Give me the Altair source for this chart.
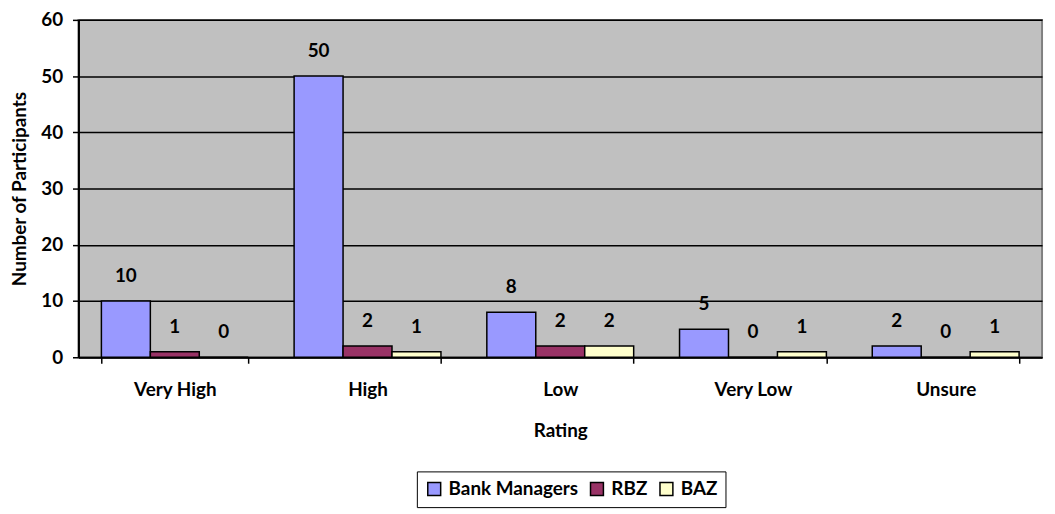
import altair as alt
import pandas as pd

categories = ["Very High", "High", "Low", "Very Low", "Unsure"]
series = ["Bank Managers", "RBZ", "BAZ"]
bank_managers = [10, 50, 8, 5, 2]
rbz = [1, 2, 2, 0, 0]
baz = [0, 1, 2, 1, 1]
colors = ["#9999FF", "#993366", "#FFFFCC"]

rows = []
for s, vals in zip(series, [bank_managers, rbz, baz]):
    for c, v in zip(categories, vals):
        rows.append({"Rating": c, "Series": s, "Value": v})
df = pd.DataFrame(rows)

FONT = "Lato"
FS = 19

x_enc = alt.X(
    "Rating:N",
    sort=categories,
    scale=alt.Scale(paddingInner=0.238, paddingOuter=0.119),
    axis=alt.Axis(
        title="Rating",
        labelAngle=0,
        tickBand="extent",
        tickSize=6,
        tickColor="black",
        tickWidth=1.5,
        domainColor="black",
        domainWidth=2,
        labelPadding=18,
        titlePadding=22,
        grid=False,
    ),
)
xoff = alt.XOffset("Series:N", sort=series, scale=alt.Scale(paddingInner=0, paddingOuter=0))

bars = alt.Chart(df).mark_bar(stroke="black", strokeWidth=1.5).encode(
    x=x_enc,
    xOffset=xoff,
    y=alt.Y(
        "Value:Q",
        scale=alt.Scale(domain=[0, 60], nice=False),
        axis=alt.Axis(
            title="Number of Participants",
            values=[0, 10, 20, 30, 40, 50, 60],
            grid=True,
            gridColor="black",
            gridWidth=1.5,
            tickSize=6,
            tickColor="black",
            tickWidth=1.5,
            domainColor="black",
            domainWidth=2,
            labelPadding=10,
            titlePadding=11,
        ),
    ),
    color=alt.Color(
        "Series:N",
        sort=series,
        scale=alt.Scale(domain=series, range=colors),
        legend=alt.Legend(
            title=None,
            orient="none",
            direction="horizontal",
            legendX=341,
            legendY=455,
            symbolType="square",
            symbolSize=169,
            symbolStrokeColor="black",
            symbolStrokeWidth=1.5,
            symbolOpacity=1,
            labelFont=FONT,
            labelFontSize=FS,
            labelFontWeight="bold",
            labelColor="black",
            columnPadding=9,
            labelOffset=5,
            strokeColor="black",
            padding=8,
        ),
    ),
)

labels = alt.Chart(df).mark_text(
    font=FONT, fontSize=FS, fontWeight="bold", color="black", baseline="middle", dy=-25
).encode(
    x=alt.X("Rating:N", sort=categories),
    xOffset=alt.XOffset("Series:N", sort=series),
    y=alt.Y("Value:Q"),
    text=alt.Text("Value:Q"),
)

chart = (
    alt.layer(bars, labels)
    .properties(
        width=971,
        height=340,
        autosize=alt.AutoSizeParams(type="none"),
        padding={"left": 71, "top": 10, "right": 5, "bottom": 160},
    )
    .configure_view(fill="#C0C0C0", stroke="#808080", strokeWidth=2)
    .configure_axis(
        labelFont=FONT,
        labelFontSize=FS,
        labelFontWeight="bold",
        labelColor="black",
        titleFont=FONT,
        titleFontSize=FS,
        titleFontWeight="bold",
        titleColor="black",
    )
)

chart.save("out.html", embed_options={"renderer": "svg", "actions": False})
